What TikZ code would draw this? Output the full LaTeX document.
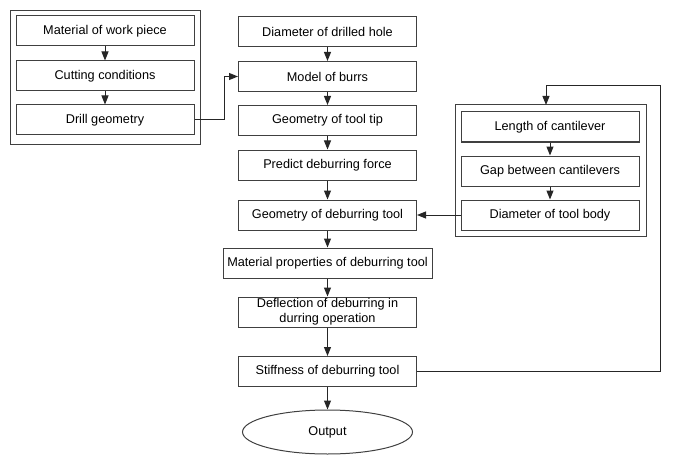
\documentclass[tikz,border=0pt]{standalone}
\usepackage{fontspec}
\setmainfont{Liberation Sans}
\usetikzlibrary{arrows.meta,shapes.geometric}
\begin{document}
\begin{tikzpicture}[x=1pt,y=-1pt,
  box/.style={draw=black!75,line width=1pt,rectangle,minimum width=178pt,minimum height=30pt,inner sep=1pt,align=center,
    font=\fontsize{12.7pt}{15pt}\selectfont},
  grp/.style={draw=black!75,line width=1pt,rectangle,inner sep=0pt},
  conn/.style={line width=1pt,draw=black!85,-{Triangle[length=9pt,width=7pt]}}]
\useasboundingbox (0,0) rectangle (685,468);
% left group
\node[grp,minimum width=190pt,minimum height=133pt] (leftgrp) at (105,77.5) {};
\node[box] (mat) at (105,31) {Material of work piece};
\node[box] (cut) at (105,76) {Cutting conditions};
\node[box] (drill) at (105,120) {Drill geometry};
% centre column
\node[box] (dia) at (327.5,31.5) {Diameter of drilled hole};
\node[box] (model) at (327.5,76.5) {Model of burrs};
\node[box] (tip) at (327.5,120.5) {Geometry of tool tip};
\node[box] (force) at (327.5,165) {Predict deburring force};
\node[box] (geom) at (327.5,215) {Geometry of deburring tool};
\node[box,minimum width=209pt] (matprop) at (327.5,263) {Material properties of deburring tool};
\node[box] (defl) at (327.5,312) {Deflection of deburring in\\durring operation};
\node[box] (stiff) at (327.5,371.5) {Stiffness of deburring tool};
\node[draw=black!75,line width=1pt,ellipse,minimum width=170pt,minimum height=44pt,inner sep=0pt,
  font=\fontsize{12.7pt}{15pt}\selectfont] (out) at (327.5,432) {Output};
% right group
\node[grp,minimum width=191pt,minimum height=131pt] (rightgrp) at (550.5,170.5) {};
\node[box] (len) at (550,127) {Length of cantilever};
\node[box] (gap) at (550,171) {Gap between cantilevers};
\node[box] (tbody) at (550,215) {Diameter of tool body};
% coordinates
\coordinate (c1) at (224,120);
\coordinate (c2) at (224,76.5);
\coordinate (f1) at (660,371.5);
\coordinate (f2) at (660,86);
\coordinate (f3) at (546,86);
\coordinate (f4) at (546,105);
% connectors
\draw[conn] (mat) -- (cut);
\draw[conn] (cut) -- (drill);
\draw[conn] (drill.east) -- (c1) -- (c2) -- (model.west);
\draw[conn] (dia) -- (model);
\draw[conn] (model) -- (tip);
\draw[conn] (tip) -- (force);
\draw[conn] (force) -- (geom);
\draw[conn] (geom) -- (matprop);
\draw[conn] (matprop) -- (defl);
\draw[conn] (defl) -- (stiff);
\draw[conn] (stiff) -- (out);
\draw[conn] (len) -- (gap);
\draw[conn] (gap) -- (tbody);
\draw[conn] (tbody.west) -- (geom.east);
\draw[conn] (stiff.east) -- (f1) -- (f2) -- (f3) -- (f4);
\end{tikzpicture}
\end{document}
